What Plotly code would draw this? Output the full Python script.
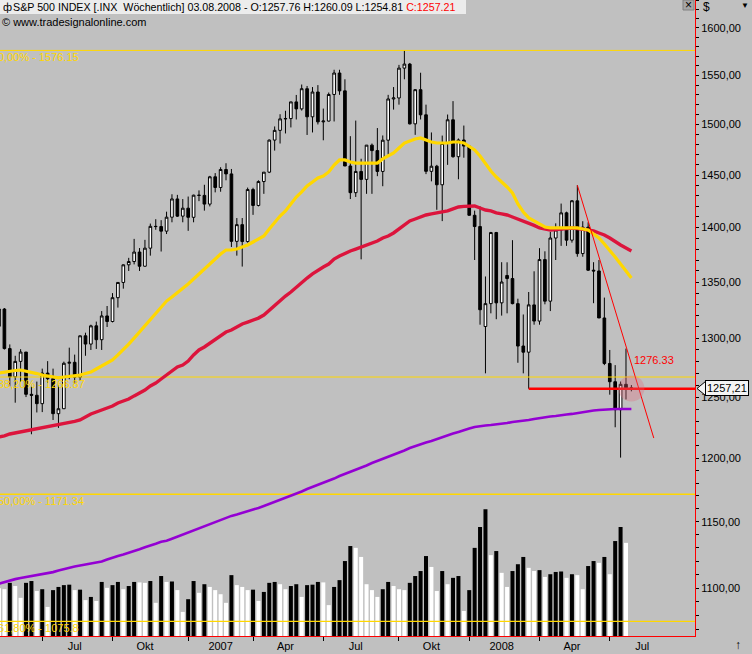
import math
import pandas as pd
import plotly.graph_objects as go

# --- weekly S&P 500 bars, dated by the Sunday that closes each week ---
DATES = pd.date_range("2006-05-07", periods=118, freq="7D")

OPEN = [1310.6, 1325.8, 1291.2, 1267.0, 1280.2, 1288.2, 1252.3, 1251.5, 1244.5, 1270.2,
        1265.5, 1236.2, 1240.3, 1278.6, 1279.4, 1266.7, 1302.3, 1295.1, 1311.0, 1298.9,
        1319.7, 1314.8, 1335.9, 1349.6, 1365.6, 1368.6, 1377.3, 1364.3, 1380.9, 1401.2,
        1401.0, 1396.7, 1409.8, 1427.1, 1410.8, 1418.3, 1409.7, 1430.7, 1430.5, 1422.2,
        1448.4, 1438.1, 1455.5, 1451.2, 1387.2, 1402.8, 1387.0, 1436.1, 1420.9, 1443.8,
        1452.9, 1484.4, 1494.1, 1505.6, 1505.9, 1522.8, 1515.7, 1536.3, 1507.7, 1532.9,
        1502.6, 1503.4, 1530.4, 1552.5, 1534.1, 1458.9, 1433.1, 1453.6, 1445.9, 1479.4,
        1474.0, 1453.6, 1484.3, 1525.8, 1526.8, 1557.6, 1561.8, 1500.6, 1535.3, 1509.7,
        1453.7, 1458.7, 1440.7, 1481.1, 1504.7, 1468.0, 1484.5, 1478.5, 1411.6, 1401.0,
        1310.4, 1330.6, 1395.4, 1331.3, 1355.9, 1353.1, 1330.6, 1293.4, 1288.1, 1329.5,
        1315.2, 1370.4, 1332.8, 1390.3, 1397.8, 1413.9, 1388.3, 1425.3, 1375.9, 1400.4,
        1360.7, 1360.0, 1317.9, 1278.4, 1262.9, 1239.5, 1260.7, 1257.76]
HIGH = [1326.7, 1326.7, 1294.8, 1285.0, 1290.7, 1288.2, 1258.6, 1263.0, 1274.0, 1280.4,
        1274.0, 1260.0, 1280.0, 1292.0, 1286.0, 1302.5, 1305.0, 1312.0, 1314.7, 1324.0,
        1328.5, 1340.0, 1350.0, 1366.0, 1372.0, 1389.5, 1381.0, 1388.6, 1403.8, 1407.9,
        1407.0, 1415.0, 1431.6, 1431.0, 1427.0, 1429.4, 1431.2, 1435.3, 1440.7, 1449.3,
        1452.0, 1457.7, 1461.6, 1456.0, 1409.0, 1409.0, 1438.0, 1437.8, 1445.0, 1453.0,
        1485.0, 1498.0, 1510.3, 1513.8, 1522.8, 1529.9, 1540.6, 1539.1, 1538.0, 1540.0,
        1516.0, 1532.4, 1555.9, 1555.9, 1546.0, 1488.3, 1503.9, 1466.0, 1479.4, 1481.0,
        1496.4, 1489.0, 1530.0, 1538.0, 1561.0, 1576.1, 1563.0, 1536.0, 1552.8, 1520.0,
        1492.0, 1460.0, 1488.9, 1510.0, 1523.6, 1486.0, 1498.9, 1478.5, 1416.0, 1420.0,
        1355.0, 1396.0, 1396.0, 1368.0, 1367.9, 1388.3, 1335.0, 1321.0, 1341.0, 1359.7,
        1380.9, 1378.0, 1395.9, 1404.0, 1422.7, 1415.0, 1425.9, 1440.2, 1406.0, 1405.0,
        1368.0, 1370.0, 1336.0, 1290.0, 1277.0, 1263.0, 1291.2, 1260.09]
LOW = [1303.5, 1290.4, 1259.0, 1245.3, 1262.7, 1250.0, 1219.3, 1237.2, 1237.5, 1262.2,
       1231.0, 1224.5, 1240.1, 1265.0, 1261.0, 1264.0, 1285.0, 1290.0, 1290.9, 1290.0,
       1310.0, 1314.0, 1327.1, 1344.0, 1360.0, 1366.0, 1360.0, 1364.0, 1374.0, 1398.0,
       1377.8, 1394.0, 1405.0, 1410.0, 1405.0, 1397.0, 1405.0, 1425.0, 1416.0, 1420.0,
       1433.4, 1434.0, 1445.0, 1382.0, 1374.0, 1364.0, 1386.0, 1412.0, 1420.0, 1432.0,
       1452.0, 1474.0, 1481.0, 1491.0, 1497.0, 1505.0, 1514.0, 1489.5, 1492.0, 1500.0,
       1484.2, 1503.0, 1503.0, 1530.0, 1458.9, 1427.0, 1429.0, 1370.6, 1432.0, 1432.0,
       1449.0, 1439.3, 1470.0, 1515.0, 1520.0, 1546.0, 1500.0, 1489.6, 1505.0, 1451.0,
       1444.0, 1416.8, 1406.1, 1460.0, 1467.0, 1446.0, 1467.0, 1411.2, 1370.0, 1312.0,
       1270.0, 1322.0, 1316.8, 1320.0, 1322.0, 1330.0, 1279.0, 1270.0, 1257.0, 1312.0,
       1312.0, 1330.0, 1324.0, 1370.0, 1383.0, 1383.0, 1386.0, 1373.0, 1373.0, 1360.0,
       1331.0, 1317.9, 1277.0, 1252.0, 1225.0, 1200.4, 1248.0, 1254.81]
CLOSE = [1325.8, 1291.2, 1267.0, 1280.2, 1288.2, 1252.3, 1251.5, 1244.5, 1270.2, 1265.5,
         1236.2, 1240.3, 1278.6, 1279.4, 1266.7, 1302.3, 1295.1, 1311.0, 1298.9, 1319.7,
         1314.8, 1335.9, 1349.6, 1365.6, 1368.6, 1377.3, 1364.3, 1380.9, 1401.2, 1401.0,
         1396.7, 1409.8, 1427.1, 1410.8, 1418.3, 1409.7, 1430.7, 1430.5, 1422.2, 1448.4,
         1438.1, 1455.5, 1451.2, 1387.2, 1402.8, 1387.0, 1436.1, 1420.9, 1443.8, 1452.9,
         1484.4, 1494.1, 1505.6, 1505.9, 1522.8, 1515.7, 1536.3, 1507.7, 1532.9, 1502.6,
         1503.4, 1530.4, 1552.5, 1534.1, 1458.9, 1433.1, 1453.6, 1445.9, 1479.4, 1474.0,
         1453.6, 1484.3, 1525.8, 1526.8, 1557.6, 1561.8, 1500.6, 1535.3, 1509.7, 1453.7,
         1458.7, 1440.7, 1481.1, 1504.7, 1468.0, 1484.5, 1478.5, 1411.6, 1401.0, 1325.2,
         1330.6, 1395.4, 1331.3, 1350.0, 1353.1, 1330.6, 1293.4, 1288.1, 1329.5, 1315.2,
         1370.4, 1332.8, 1390.3, 1397.8, 1413.9, 1388.3, 1425.4, 1375.9, 1400.4, 1360.7,
         1360.0, 1317.9, 1278.4, 1262.9, 1239.5, 1260.7, 1257.8, 1257.21]

# weekly volume (bn shares); the running week has no bar yet
VOLUME = [10.5, 10.3, 11.7, 11.0, 8.4, 11.7, 12.1, 9.9, 10.3, 6.4,
          10.1, 10.8, 11.2, 11.3, 10.1, 10.2, 7.9, 8.6, 7.7, 11.9,
          10.6, 11.2, 11.9, 10.3, 11.0, 11.9, 11.8, 11.7, 12.1, 7.3,
          13.2, 11.9, 12.0, 10.1, 5.3, 8.1, 12.1, 9.5, 11.4, 10.8,
          10.1, 9.2, 7.3, 13.4, 11.2, 10.8, 10.1, 10.2, 7.7, 9.7,
          11.7, 11.9, 11.4, 10.3, 11.0, 11.4, 8.6, 11.2, 11.3, 11.9,
          11.8, 6.8, 10.8, 12.3, 16.5, 19.8, 19.4, 17.4, 11.4, 10.1,
          8.6, 10.3, 11.9, 11.0, 10.3, 10.1, 11.7, 13.2, 14.3, 17.6,
          15.2, 9.9, 14.3, 11.4, 12.8, 13.2, 5.5, 10.1, 19.4, 24.0,
          27.9, 17.8, 18.7, 13.9, 10.8, 14.3, 15.8, 17.4, 15.0, 14.3,
          14.5, 13.0, 13.6, 14.1, 14.2, 12.8, 13.6, 13.4, 10.3, 15.4,
          16.5, 16.1, 17.4, 13.6, 20.9, 24.0, 20.5, None]

# moving averages as drawn in the chart
MA_YELLOW = [1270.2, 1271.1, 1271.9, 1272.4, 1272.8, 1271.9, 1271.1, 1269.8, 1268.6, 1267.7,
             1266.9, 1266.1, 1266.9, 1267.3, 1268.2, 1268.6, 1269.8, 1271.1, 1273.7, 1276.3,
             1278.8, 1281.4, 1285.7, 1290.0, 1295.1, 1300.3, 1305.6, 1310.8, 1316.1, 1321.4,
             1327.6, 1332.9, 1336.5, 1340.1, 1344.6, 1348.2, 1352.7, 1357.3, 1361.8, 1366.3,
             1370.9, 1375.5, 1379.2, 1379.2, 1380.1, 1382.0, 1383.8, 1386.6, 1389.4, 1392.2,
             1398.7, 1405.3, 1410.9, 1415.7, 1422.3, 1429.0, 1433.8, 1439.5, 1443.4, 1447.2,
             1449.2, 1453.1, 1459.9, 1464.8, 1464.8, 1462.8, 1461.8, 1461.8, 1461.8, 1461.8,
             1461.8, 1465.8, 1468.7, 1471.7, 1476.6, 1481.5, 1483.5, 1485.5, 1486.5, 1484.5,
             1482.5, 1481.5, 1481.5, 1481.5, 1482.5, 1482.5, 1481.5, 1478.5, 1474.6, 1468.7,
             1460.9, 1454.0, 1448.2, 1443.4, 1438.6, 1432.8, 1422.3, 1414.7, 1409.1, 1406.3,
             1403.5, 1400.6, 1399.7, 1399.7, 1399.7, 1399.7, 1399.7, 1399.7, 1398.7, 1397.8,
             1394.1, 1390.4, 1384.8, 1379.2, 1372.7, 1366.3, 1360.0, 1353.6]
MA_RED = [1217.1, 1217.9, 1219.5, 1220.3, 1221.2, 1222.0, 1222.8, 1223.6, 1224.4, 1225.3,
          1226.1, 1226.9, 1227.7, 1228.5, 1229.8, 1231.0, 1233.5, 1235.9, 1237.6, 1239.2,
          1240.9, 1242.5, 1245.1, 1246.8, 1248.4, 1251.0, 1253.4, 1255.9, 1259.3, 1261.8,
          1265.2, 1268.6, 1272.0, 1275.4, 1277.1, 1280.5, 1285.7, 1290.0, 1292.6, 1296.0,
          1299.5, 1303.0, 1305.6, 1307.3, 1309.9, 1312.6, 1314.3, 1316.1, 1317.8, 1320.5,
          1324.9, 1329.4, 1333.8, 1337.4, 1341.0, 1345.5, 1350.0, 1353.6, 1357.3, 1360.9,
          1363.6, 1366.3, 1370.9, 1373.6, 1376.4, 1378.3, 1380.1, 1382.0, 1383.8, 1385.6,
          1387.5, 1390.3, 1392.2, 1395.0, 1398.7, 1402.5, 1406.3, 1408.1, 1410.0, 1411.9,
          1412.9, 1413.8, 1414.7, 1415.7, 1417.6, 1419.5, 1420.0, 1420.4, 1420.4, 1418.5,
          1416.6, 1415.7, 1413.8, 1412.9, 1411.9, 1410.0, 1408.1, 1406.3, 1404.4, 1402.1,
          1399.7, 1398.7, 1397.8, 1398.2, 1398.7, 1399.2, 1399.7, 1399.2, 1398.7, 1397.8,
          1396.9, 1395.0, 1393.1, 1390.3, 1386.6, 1383.8, 1381.0, 1378.3]
MA_PURPLE = [1103.4, 1104.5, 1106.0, 1106.7, 1107.5, 1108.2, 1109.0, 1109.3, 1110.1, 1110.8,
             1111.9, 1113.1, 1114.2, 1115.3, 1116.1, 1116.8, 1117.6, 1118.3, 1119.1, 1119.8,
             1121.3, 1122.8, 1124.0, 1125.1, 1126.3, 1127.4, 1129.0, 1130.5, 1131.6, 1133.2,
             1134.7, 1135.5, 1137.0, 1138.6, 1140.1, 1141.7, 1143.6, 1145.1, 1146.7, 1148.2,
             1149.8, 1151.4, 1152.9, 1154.5, 1155.6, 1156.8, 1158.0, 1159.1, 1160.7, 1162.2,
             1163.8, 1165.3, 1166.8, 1168.4, 1170.0, 1172.0, 1173.5, 1175.5, 1177.1, 1178.6,
             1180.2, 1182.2, 1183.7, 1185.7, 1187.3, 1188.9, 1190.5, 1192.5, 1194.1, 1196.1,
             1197.7, 1199.3, 1200.9, 1202.9, 1204.5, 1206.1, 1208.1, 1209.7, 1211.0, 1212.6,
             1213.8, 1215.4, 1216.7, 1218.7, 1219.9, 1221.2, 1222.8, 1224.0, 1225.3, 1226.1,
             1226.5, 1226.9, 1227.3, 1227.7, 1228.5, 1229.4, 1229.8, 1230.6, 1231.0, 1231.8,
             1232.7, 1233.1, 1233.9, 1234.3, 1235.1, 1235.5, 1236.0, 1236.8, 1237.6, 1238.4,
             1238.8, 1239.2, 1239.6, 1240.1, 1240.1, 1240.1, 1240.1, 1240.1]

FIB_LEVELS = [1576.15, 1266.87, 1171.34, 1075.8]
FIB_LABELS = ["0,00% - 1576.15", "38,20% - 1266.87", "50,00% - 1171.34", "61,80% - 1075.8"]

SUPPORT_FROM = "2008-03-23"
SUPPORT_LEVEL = 1256.98
TREND_DATES = ["2008-05-25", "2008-09-01"]
TREND_PRICES = [1440.24, 1216.2]
TREND_LABEL = "1276.33"

QUARTER_BARS = ["2006-07-02", "2006-10-01", "2007-01-07", "2007-04-01", "2007-07-01",
                "2007-10-07", "2008-01-06", "2008-04-06", "2008-07-06"]
TICK_LABELS = ["Jul", "Okt", "2007", "Apr", "Jul", "Okt", "2008", "Apr", "Jul"]

HEADER = ("S&amp;P 500 INDEX [.INX\u00a0\u00a0Wöchentlich] 03.08.2008 - O:1257.76 "
          "H:1260.09 L:1254.81 ")
HEADER_CLOSE = "C:1257.21"

# --- styling ---
SILVER = "#C0C0C0"
GOLD = "#FFD700"
CRIMSON = "#DC143C"
VIOLET = "#9400D3"
RED = "#FF0000"
FONT = "Liberation Sans, Arial, sans-serif"

W, H = 752, 654
PLOT_W, PLOT_H = 695, 636
X_RANGE = ["2006-05-08 07:00", "2008-10-24 09:00"]
P_LO, P_HI = 1065.4, 1630.2
Y_RANGE = [math.log10(P_LO), math.log10(P_HI)]
MINOR_STEPS = list(range(1070, 1631, 10))


def px_x(px):
    return px / PLOT_W


def px_y(py):
    return 1 - py / PLOT_H


def price_y(p):
    return (math.log10(p) - Y_RANGE[0]) / (Y_RANGE[1] - Y_RANGE[0])


vol_colors = ["white"]
for prev, cur in zip(VOLUME[:-1], VOLUME[1:]):
    vol_colors.append("black" if (cur or 0) > (prev or 0) else "white")

label_dates = [pd.Timestamp(d) + pd.Timedelta(days=42) for d in QUARTER_BARS]

fig = go.Figure()

fig.add_trace(go.Bar(
    x=DATES, y=VOLUME, yaxis="y",
    marker=dict(color=vol_colors, line=dict(width=0)),
))

for lvl in FIB_LEVELS:
    fig.add_trace(go.Scatter(
        x=X_RANGE, y=[lvl, lvl], yaxis="y2", mode="lines",
        line=dict(color=GOLD, width=1.3 if lvl < 1200 else 1),
    ))

fig.add_trace(go.Candlestick(
    x=DATES, open=OPEN, high=HIGH, low=LOW, close=CLOSE, yaxis="y2",
    increasing=dict(fillcolor="white", line=dict(color="black", width=1)),
    decreasing=dict(fillcolor="black", line=dict(color="black", width=1)),
    whiskerwidth=0,
))

fig.add_trace(go.Scatter(x=DATES, y=MA_PURPLE, yaxis="y2", mode="lines",
                         line=dict(color=VIOLET, width=2.6)))
fig.add_trace(go.Scatter(x=DATES, y=MA_RED, yaxis="y2", mode="lines",
                         line=dict(color=CRIMSON, width=3.4)))
fig.add_trace(go.Scatter(x=DATES, y=MA_YELLOW, yaxis="y2", mode="lines",
                         line=dict(color=GOLD, width=3.2)))

fig.add_trace(go.Scatter(x=[SUPPORT_FROM, X_RANGE[1]], y=[SUPPORT_LEVEL, SUPPORT_LEVEL],
                         yaxis="y2", mode="lines", line=dict(color=RED, width=2.5)))
fig.add_trace(go.Scatter(x=TREND_DATES, y=TREND_PRICES, yaxis="y2", mode="lines",
                         line=dict(color=RED, width=1)))
fig.add_trace(go.Scatter(x=[DATES[-1]], y=[CLOSE[-1]], yaxis="y2", mode="markers",
                         marker=dict(size=26, color="rgba(225,105,125,0.33)", line=dict(width=0))))
# carrier for the minor-tick axis
fig.add_trace(go.Scatter(x=[None], y=[None], yaxis="y3", mode="lines", hoverinfo="skip"))

annotations = []
for lvl, txt in zip(FIB_LEVELS, FIB_LABELS):
    annotations.append(dict(
        x=0, xref="paper", xanchor="left", xshift=-4,
        y=math.log10(lvl), yref="y2", yanchor="top", yshift=1,
        text=txt, showarrow=False, font=dict(color=GOLD, size=11),
    ))

annotations += [
    dict(x=DATES[-1], xref="x", xanchor="left", xshift=1,
         y=math.log10(1281.0), yref="y2", yanchor="middle",
         text=TREND_LABEL, showarrow=False, font=dict(color=RED, size=11)),
    dict(x=px_x(11), xref="paper", xanchor="left", y=px_y(7), yref="paper", yanchor="middle",
         text=HEADER + f"<span style='color:{RED}'>{HEADER_CLOSE}</span>",
         showarrow=False, font=dict(size=10.7)),
    dict(x=px_x(1), xref="paper", xanchor="left", y=px_y(7), yref="paper", yanchor="middle",
         text="ф", showarrow=False, font=dict(size=11)),
    dict(x=px_x(0), xref="paper", xanchor="left", y=px_y(22), yref="paper", yanchor="middle",
         text="© www.tradesignalonline.com", showarrow=False, font=dict(size=11)),
    dict(x=px_x(688.5), xref="paper", xanchor="center", y=px_y(5), yref="paper",
         yanchor="middle", text="×", showarrow=False, font=dict(size=12)),
    dict(x=px_x(701), xref="paper", xanchor="left", y=px_y(7), yref="paper", yanchor="middle",
         text="$", showarrow=False, font=dict(size=12)),
    dict(x=px_x(745), xref="paper", xanchor="center", y=px_y(5), yref="paper",
         yanchor="middle", text="▼", showarrow=False, font=dict(size=8)),
    dict(x=px_x(738), xref="paper", xanchor="center", y=px_y(645), yref="paper",
         yanchor="middle", text="↑", showarrow=False, font=dict(size=12)),
    dict(x=px_x(705), xref="paper", xanchor="left", y=price_y(CLOSE[-1]), yref="paper",
         yanchor="middle", text="1257,21", showarrow=False, font=dict(size=11),
         bgcolor="#F4F4F4", bordercolor="black", borderwidth=1, borderpad=1),
]

tag_y = price_y(CLOSE[-1])
shapes = [
    dict(type="rect", xref="paper", yref="paper", x0=0, x1=px_x(466), y0=px_y(14), y1=1,
         fillcolor="#ECECEC", line=dict(width=0), layer="above"),
    dict(type="rect", xref="paper", yref="paper", x0=px_x(683), x1=px_x(694),
         y0=px_y(10), y1=1, fillcolor="#A6A6A6", line=dict(color="#808080", width=1),
         layer="above"),
    dict(type="path", xref="paper", yref="paper", layer="above",
         path=(f"M {px_x(697)},{tag_y} L {px_x(705.5)},{tag_y + 7 / PLOT_H} "
               f"L {px_x(705.5)},{tag_y - 7 / PLOT_H} Z"),
         fillcolor="#F4F4F4", line=dict(color="black", width=1)),
]

fig.update_layout(
    width=W, height=H,
    margin=dict(l=0, r=W - PLOT_W, t=0, b=H - PLOT_H),
    paper_bgcolor=SILVER, plot_bgcolor=SILVER,
    font=dict(family=FONT, size=11, color="black"),
    separators=",.",
    showlegend=False,
    bargap=0.26,
    xaxis=dict(
        type="date", range=X_RANGE, showgrid=False, zeroline=False,
        showline=True, linecolor=RED, linewidth=1,
        tickmode="array", tickvals=label_dates, ticktext=TICK_LABELS, ticks="",
        tickfont=dict(size=11, color="black"),
        minor=dict(tickmode="array", tickvals=QUARTER_BARS, ticks="outside", ticklen=4,
                   tickcolor="black", tickwidth=1, showgrid=False),
        rangeslider=dict(visible=False),
    ),
    yaxis=dict(range=[0, 140], visible=False),
    yaxis2=dict(
        type="log", overlaying="y", side="right", range=Y_RANGE,
        tick0=0, dtick="L50", tickformat=".2f",
        ticks="outside", ticklen=3, tickcolor="black", tickwidth=1,
        showline=True, linecolor=RED, linewidth=1,
        showgrid=False, zeroline=False,
        tickfont=dict(size=11, color="black"),
    ),
    yaxis3=dict(
        type="log", overlaying="y", side="right", range=Y_RANGE,
        tickmode="array", tickvals=MINOR_STEPS, showticklabels=False,
        ticks="outside", ticklen=3, tickcolor="black", tickwidth=1,
        showline=False, showgrid=False, zeroline=False,
    ),
    annotations=annotations,
    shapes=shapes,
)

# the page body has a default 8px margin; drop it so the figure sits at the corner
fig.write_html("out.html", config={"displayModeBar": False},
               post_script="document.body.style.margin='0';")
